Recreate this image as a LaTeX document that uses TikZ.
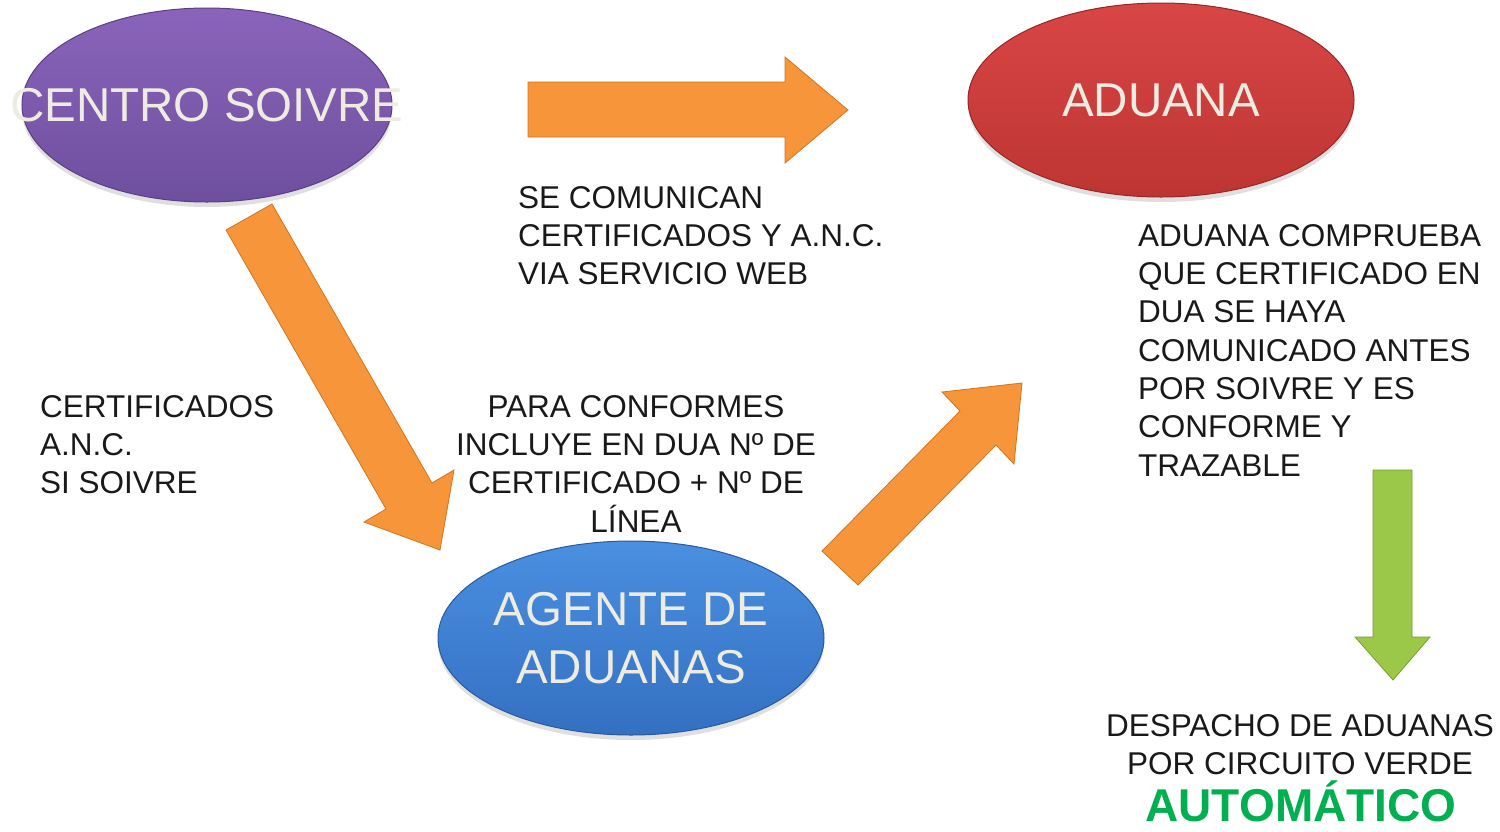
\documentclass[tikz,border=0pt]{standalone}
\usepackage{fontspec}
\setmainfont{Liberation Sans}
\usepackage{xcolor}
\usetikzlibrary{shapes.geometric,shadows}

\definecolor{soivretop}{HTML}{8A64BA}
\definecolor{soivrebot}{HTML}{6E4F9E}
\definecolor{soivreln}{HTML}{5A3F86}
\definecolor{aduanatop}{HTML}{D84646}
\definecolor{aduanabot}{HTML}{BD3532}
\definecolor{aduanaln}{HTML}{962725}
\definecolor{agentetop}{HTML}{4A8FE0}
\definecolor{agentebot}{HTML}{3470C2}
\definecolor{agenteln}{HTML}{285A9C}
\definecolor{naranja}{HTML}{F7953B}
\definecolor{naranjaosc}{HTML}{D2741E}
\definecolor{verde}{HTML}{9CC84A}
\definecolor{verdeosc}{HTML}{76A02E}
\definecolor{ovaltexto}{HTML}{EEECE1}
\definecolor{automatico}{HTML}{00B050}

\begin{document}
\begin{tikzpicture}[x=1pt,y=-1pt,
  oval/.style={ellipse, inner sep=0pt, minimum width=386pt, minimum height=194pt,
    line width=1pt, drop shadow={shadow xshift=0pt, shadow yshift=-5pt, opacity=0.25}},
  ovaltxt/.style={text=ovaltexto, font=\fontsize{47.5}{58}\selectfont, align=center},
  nota/.style={text=black!90, font=\fontsize{31.5}{38.3}\selectfont, inner sep=0pt},
  flecha/.style={fill=naranja, draw=naranjaosc, line width=0.8pt},
  flechaverde/.style={fill=verde, draw=verdeosc, line width=0.8pt}]

\useasboundingbox (0,0) rectangle (1500,831);

% ovals
\node[oval, minimum width=370pt, top color=soivretop, bottom color=soivrebot, draw=soivreln,
  label={[ovaltxt]center:CENTRO SOIVRE}] (soivre) at (207,105) {};
\node[oval, top color=aduanatop, bottom color=aduanabot, draw=aduanaln,
  label={[ovaltxt]center:ADUANA}] (aduana) at (1161,100) {};
\node[oval, top color=agentetop, bottom color=agentebot, draw=agenteln,
  label={[ovaltxt]center:{AGENTE DE\\ADUANAS}}] (agente) at (631,638) {};

% block arrows
\filldraw[flecha] (528,82) -- (785,82) -- (785,57) -- (848,110) -- (785,163) -- (785,137) -- (528,137) -- cycle;
\filldraw[flecha] (226,230) -- (272,204) -- (432,483) -- (454,470) -- (440,550) -- (364,522) -- (386,509) -- cycle;
\filldraw[flecha] (822,551) -- (960,411) -- (942,392) -- (1022,383) -- (1014,464) -- (996,445) -- (858,585) -- cycle;
\filldraw[flechaverde] (1373,470) -- (1412,470) -- (1412,637) -- (1430,637) -- (1393,680) -- (1355,637) -- (1373,637) -- cycle;

% texts
\node[nota, anchor=north west, align=left] (servicio) at (518,186)
  {SE COMUNICAN\\CERTIFICADOS Y A.N.C.\\VIA SERVICIO WEB};
\node[nota, anchor=north west, align=left] (certif) at (40,395)
  {CERTIFICADOS\\A.N.C.\\SI SOIVRE};
\node[nota, anchor=north, align=center] (conformes) at (636,395)
  {PARA CONFORMES\\INCLUYE EN DUA Nº DE\\CERTIFICADO + Nº DE\\LÍNEA};
\node[nota, anchor=north west, align=left] (comprueba) at (1138,224)
  {ADUANA COMPRUEBA\\QUE CERTIFICADO EN\\DUA SE HAYA\\COMUNICADO ANTES\\POR SOIVRE Y ES\\CONFORME Y\\TRAZABLE};
\node[nota, anchor=north, align=center] (despacho) at (1300,714)
  {DESPACHO DE ADUANAS\\POR CIRCUITO VERDE};
\node[anchor=base, inner sep=0pt, text=automatico, font=\fontsize{46}{46}\selectfont\bfseries] (auto) at (1301,821)
  {AUTOMÁTICO};

\end{tikzpicture}
\end{document}
